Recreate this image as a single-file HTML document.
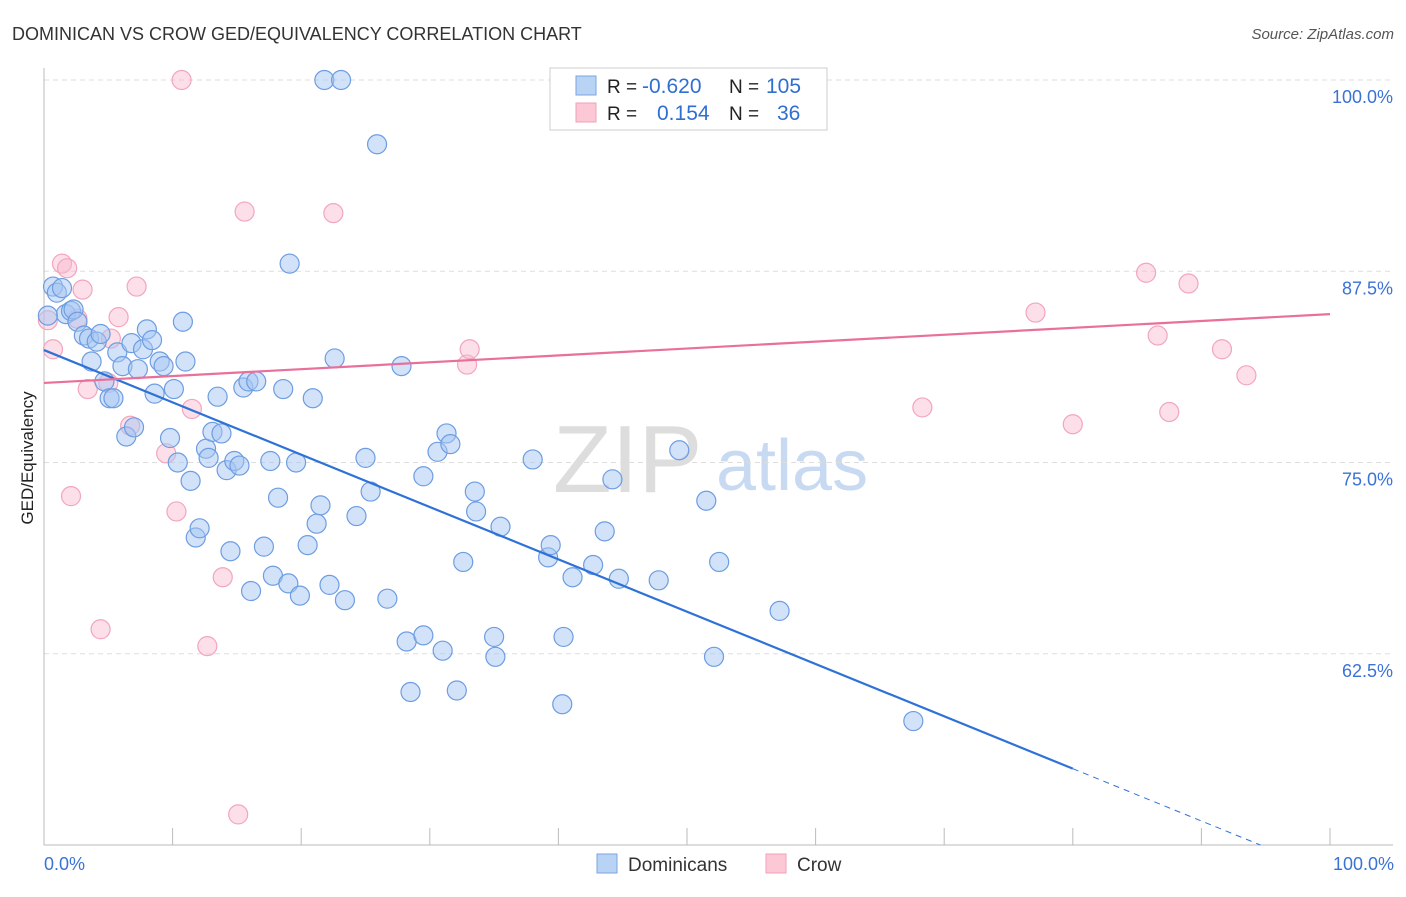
<!DOCTYPE html>
<html><head><meta charset="utf-8"><style>
body{margin:0;background:#fff;font-family:"Liberation Sans",sans-serif}
svg text{font-family:"Liberation Sans",sans-serif}
</style></head><body>
<svg id="c" width="1406" height="892">
<text x="12" y="40" font-size="18" fill="#333">DOMINICAN VS CROW GED/EQUIVALENCY CORRELATION CHART</text>
<text x="1394" y="39" font-size="15" fill="#555" font-style="italic" text-anchor="end">Source: ZipAtlas.com</text>
<text x="33" y="458" font-size="17" fill="#222" text-anchor="middle" transform="rotate(-90 33 458)">GED/Equivalency</text>
<g><text x="553" y="492" font-size="96" fill="#ddd" font-family="Liberation Serif">ZIP</text><text x="716" y="490" font-size="72" fill="#c8daf2">atlas</text></g>
<g id="grid"></g><g id="pts"></g><g id="lines"></g>
<g>
<rect x="550" y="68" width="277" height="62" fill="#fff" stroke="#ccc"/>
<rect x="576" y="76" width="20" height="19" fill="#b9d3f5" stroke="#7aa6e0"/>
<rect x="576" y="103" width="20" height="19" fill="#fcc8d6" stroke="#f0a0b8"/>
<text x="607" y="93" font-size="19" fill="#222">R = </text><text x="642" y="93" font-size="21" fill="#2f6fd1">-0.620</text>
<text x="729" y="93" font-size="19" fill="#222">N = </text><text x="766" y="93" font-size="21" fill="#2f6fd1">105</text>
<text x="607" y="120" font-size="19" fill="#222">R = </text><text x="657" y="120" font-size="21" fill="#2f6fd1">0.154</text>
<text x="729" y="120" font-size="19" fill="#222">N = </text><text x="777" y="120" font-size="21" fill="#2f6fd1">36</text>
</g>
<g>
<rect x="597" y="854" width="20" height="19" fill="#b9d3f5" stroke="#7aa6e0"/><text x="628" y="871" font-size="19" fill="#333">Dominicans</text>
<rect x="766" y="854" width="20" height="19" fill="#fcc8d6" stroke="#f0a0b8"/><text x="797" y="871" font-size="19" fill="#333">Crow</text>
</g>
</svg>
<script>
const yTicks=[100,87.5,75,62.5];
const yTickLabels=["100.0%","87.5%","75.0%","62.5%"];
const xTicks=[10,20,30,40,50,60,70,80,90,100];
const blueX=[0.7,1.0,1.4,1.7,2.1,2.3,2.6,3.1,3.5,3.7,4.1,4.4,4.7,5.1,5.4,5.7,6.1,6.4,6.8,7.0,7.3,7.7,8.0,8.4,8.6,9.0,9.3,9.8,10.1,10.4,10.8,11.0,11.4,11.8,12.1,12.6,12.8,13.1,13.5,13.8,14.2,14.5,14.8,15.2,15.5,15.9,16.1,16.5,17.1,17.6,17.8,18.2,18.6,19.0,19.1,19.6,19.9,20.5,20.9,21.2,21.5,21.8,22.2,22.6,23.1,23.4,24.3,25.0,25.4,25.9,26.7,27.8,28.2,28.5,29.5,29.5,30.6,31.0,31.3,31.6,32.1,32.6,33.5,33.6,35.0,35.1,35.5,38.0,39.2,39.4,40.3,40.4,41.1,42.7,43.6,44.2,44.7,47.8,49.4,51.5,52.1,52.5,57.2,67.6,0.3];
const blueY=[86.5,86.1,86.4,84.7,84.9,85.0,84.2,83.3,83.1,81.6,82.9,83.4,80.3,79.2,79.2,82.2,81.3,76.7,82.8,77.3,81.1,82.4,83.7,83.0,79.5,81.6,81.3,76.6,79.8,75.0,84.2,81.6,73.8,70.1,70.7,75.9,75.3,77.0,79.3,76.9,74.5,69.2,75.1,74.8,79.9,80.3,66.6,80.3,69.5,75.1,67.6,72.7,79.8,67.1,88.0,75.0,66.3,69.6,79.2,71.0,72.2,100,67.0,81.8,100,66.0,71.5,75.3,73.1,95.8,66.1,81.3,63.3,60.0,63.7,74.1,75.7,62.7,76.9,76.2,60.1,68.5,73.1,71.8,63.6,62.3,70.8,75.2,68.8,69.6,59.2,63.6,67.5,68.3,70.5,73.9,67.4,67.3,75.8,72.5,62.3,68.5,65.3,58.1,84.6];
const pinkX=[0.3,0.7,1.4,1.8,2.1,2.6,3.0,3.4,4.4,5.0,5.2,5.8,6.7,7.2,9.5,10.3,10.7,11.5,12.7,13.9,15.1,15.6,22.5,32.9,33.1,40.2,56.5,68.3,77.1,80.0,85.7,86.6,87.5,89.0,91.6,93.5];
const pinkY=[84.3,82.4,88.0,87.7,72.8,84.4,86.3,79.8,64.1,80.2,83.1,84.5,77.4,86.5,75.6,71.8,100,78.5,63.0,67.5,52.0,91.4,91.3,81.4,82.4,100,100,78.6,84.8,77.5,87.4,83.3,78.3,86.7,82.4,80.7];
const blueTrend=[82.35,-0.342];
const pinkTrend=[80.2,0.045];
const X=v=>44+v*12.86, Y=v=>80+(100-v)*15.3;
const NS="http://www.w3.org/2000/svg";
function mk(t,a,p){const e=document.createElementNS(NS,t);for(const k in a)e.setAttribute(k,a[k]);p.appendChild(e);return e;}
const grid=document.getElementById('grid');
yTicks.forEach((v,i)=>{
 const l=mk('line',{x1:44,x2:1393,y1:Y(v),y2:Y(v),stroke:'#ddd','stroke-dasharray':'5,4'},grid);
 
 
 const t=mk('text',{x:1393,y:Y(v)+23,'font-size':18,fill:'#3a72d6','text-anchor':'end'},grid);t.textContent=yTickLabels[i];
 
 
});
const ax=mk('line',{x1:44,x2:1393,y1:845,y2:845,stroke:'#bbb'},grid);


const ay=mk('line',{x1:44,x2:44,y1:68,y2:845,stroke:'#bbb'},grid);


xTicks.forEach(v=>{const t=mk('line',{x1:X(v),x2:X(v),y1:828,y2:845,stroke:'#bbb'},grid);
 
 });
[[0,"0.0%",44,'start'],[100,"100.0%",1394,'end']].forEach(d=>{const t=mk('text',{x:d[2],y:870,'font-size':18,fill:'#3a72d6','text-anchor':d[3]},grid);t.textContent=d[1];
 
 });
const pts=document.getElementById('pts');
pinkX.forEach((x,i)=>{const c=mk('circle',{cx:X(x),cy:Y(pinkY[i]),r:9.5,fill:'rgba(248,185,205,0.45)',stroke:'#f2a6bd','stroke-width':1.2},pts);
 
 });
blueX.forEach((x,i)=>{const c=mk('circle',{cx:X(x),cy:Y(blueY[i]),r:9.5,fill:'rgba(165,198,242,0.5)',stroke:'#6d9de2','stroke-width':1.2},pts);
 
 });
const lines=document.getElementById('lines');
const bt=v=>blueTrend[0]+blueTrend[1]*v, pt=v=>pinkTrend[0]+pinkTrend[1]*v;
const b1=mk('line',{x1:X(0),y1:Y(bt(0)),x2:X(80),y2:Y(bt(80)),stroke:'#2e72d8','stroke-width':2.2},lines);


const xe=(50-blueTrend[0])/blueTrend[1];
const b2=mk('line',{x1:X(80),y1:Y(bt(80)),x2:X(xe),y2:Y(50),stroke:'#2e72d8','stroke-width':1,'stroke-dasharray':'6,5'},lines);


const p1=mk('line',{x1:X(0),y1:Y(pt(0)),x2:X(100),y2:Y(pt(100)),stroke:'#e8709a','stroke-width':2.2},lines);


</script>
</body></html>
